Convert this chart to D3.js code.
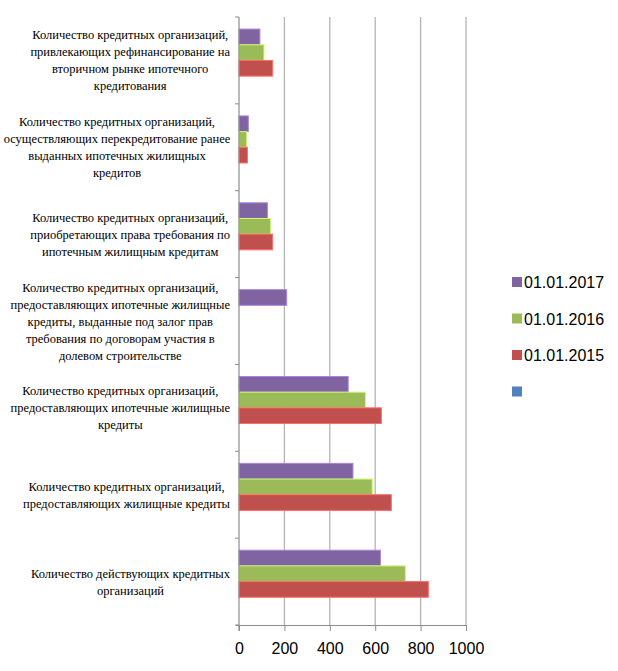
<!DOCTYPE html>
<html><head><meta charset="utf-8">
<script src="https://cdn.jsdelivr.net/npm/d3@7"></script>
<style>body{margin:0;background:#fff}
.cat{font-family:"Liberation Serif","Times New Roman","DejaVu Serif",serif;font-size:12.5px;fill:#000}
.sans{font-family:"Liberation Sans",Arial,sans-serif}
</style>
</head><body>
<svg id="c" width="618" height="671"></svg>
<script>
const categories = [
  ["Количество кредитных организаций,", "привлекающих рефинансирование на", "вторичном рынке ипотечного", "кредитования"],
  ["Количество кредитных организаций,", "осуществляющих перекредитование ранее", "выданных ипотечных жилищных", "кредитов"],
  ["Количество кредитных организаций,", "приобретающих права требования по", "ипотечным жилищным кредитам"],
  ["Количество кредитных организаций,", "предоставляющих ипотечные жилищные", "кредиты, выданные под залог прав", "требования по договорам участия в", "долевом строительстве"],
  ["Количество кредитных организаций,", "предоставляющих ипотечные жилищные", "кредиты"],
  ["Количество кредитных организаций,", "предоставляющих  жилищные кредиты"],
  ["Количество действующих кредитных", "организаций"]
];
const seriesNames = ["01.01.2017", "01.01.2016", "01.01.2015", ""];
const seriesColors = ["#8064A2", "#9BBB59", "#C0504D", "#4F81BD"];
const values2017 = [92, 41, 125, 210, 481, 502, 623];
const values2016 = [110, 34, 139, 0, 557, 587, 733];
const values2015 = [148, 37, 148, 0, 627, 671, 834];
const valuesBlank = [0, 0, 0, 0, 0, 0, 0];
const xTicks = [0, 200, 400, 600, 800, 1000];

const seriesValues = [values2017, values2016, values2015, valuesBlank];
const svg = d3.select("#c");
const catIdx = categories.map((d, i) => i);

const x = d3.scaleLinear().domain([0, 1000]).range([239, 466]);
const y = d3.scaleBand().domain(catIdx).range([17, 625]);
const ys = d3.scaleBand().domain(d3.range(4)).range([0, y.bandwidth()]).paddingOuter(0.77);

// gridlines
svg.append("g").selectAll("line").data(xTicks.slice(1)).join("line")
  .attr("x1", d => x(d)).attr("x2", d => x(d))
  .attr("y1", 17).attr("y2", 625)
  .attr("stroke", "#b4b4b4").attr("stroke-width", 1.3);

// bars
const groups = svg.append("g").selectAll("g").data(catIdx).join("g")
  .attr("transform", i => `translate(0,${y(i)})`);
groups.selectAll("rect").data(i => seriesValues.map((s, k) => ({k, v: s[i]}))).join("rect")
  .filter(d => d.v > 0)
  .attr("x", x(0)).attr("y", d => ys(d.k))
  .attr("width", d => x(d.v) - x(0)).attr("height", ys.bandwidth())
  .attr("fill", d => seriesColors[d.k])
  .attr("stroke", d => d3.color(seriesColors[d.k]).brighter(0.8))
  .attr("stroke-width", 1);

// axes
const xAxis = d3.axisBottom(x).tickValues(xTicks).tickSize(6).tickPadding(12).tickFormat(d3.format("d"));
const gx = svg.append("g").attr("transform", "translate(0,625)").call(xAxis);
gx.select(".domain").attr("stroke", "#8c8c8c").attr("d", `M${x(0)-3},0.5H${x(1000)}`);
gx.selectAll(".tick line").attr("stroke", "#8c8c8c");
gx.selectAll(".tick text").attr("class", "sans").attr("font-family", null).attr("font-size", 16).attr("fill", "#000");

// left axis
svg.append("line").attr("x1", x(0)).attr("x2", x(0)).attr("y1", 17).attr("y2", 631)
  .attr("stroke", "#8c8c8c").attr("stroke-width", 1.2);
svg.append("g").selectAll("line").data(d3.range(8)).join("line")
  .attr("x1", x(0) - 4).attr("x2", x(0))
  .attr("y1", i => 17 + i * y.step()).attr("y2", i => 17 + i * y.step())
  .attr("stroke", "#8c8c8c");

// category labels
const lineH = 17;
const lab = svg.append("g");
categories.forEach((lines, i) => {
  const cy = y(i) + y.bandwidth() / 2;
  const t = lab.append("text").attr("class", "cat").attr("text-anchor", "middle");
  const n = lines.length;
  const spans = lines.map((l, j) => t.append("tspan").attr("y", cy + (j - (n - 1) / 2) * lineH + 4.5).text(l));
  const maxW = Math.min(226, d3.max(spans, s => s.node().getComputedTextLength()));
  const cx = 230 - maxW / 2;
  spans.forEach(s => s.attr("x", cx));
});

// legend
const leg = svg.append("g").selectAll("g").data(seriesNames).join("g")
  .attr("transform", (d, i) => `translate(512,${282 + i * 36.5})`);
leg.append("rect").attr("x", 0).attr("y", -5).attr("width", 10).attr("height", 10)
  .attr("fill", (d, i) => seriesColors[i]);
leg.append("text").attr("class", "sans").attr("x", 12).attr("y", 6)
  .attr("font-size", 16)
  .text(d => d);
</script>
</body></html>
